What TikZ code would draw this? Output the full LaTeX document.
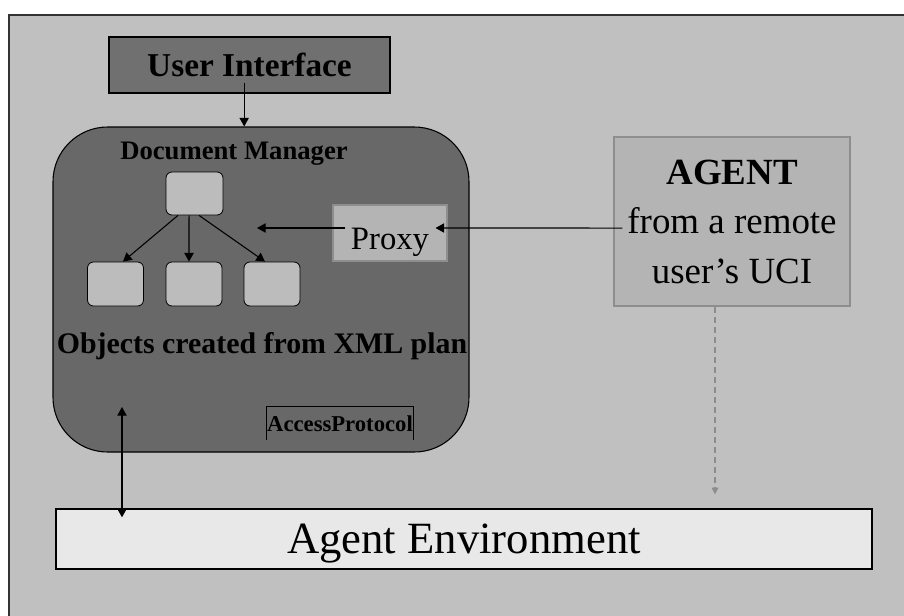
\documentclass[tikz,border=0pt]{standalone}
\usepackage{fontspec}
\setmainfont{Liberation Serif}
\usetikzlibrary{arrows.meta}
\definecolor{bggray}{RGB}{192,192,192}
\definecolor{uigray}{RGB}{112,112,112}
\definecolor{dmgray}{RGB}{104,104,104}
\definecolor{objgray}{RGB}{188,188,188}
\definecolor{proxygray}{RGB}{180,180,180}
\definecolor{proxyline}{RGB}{142,142,142}
\definecolor{envgray}{RGB}{232,232,232}
\tikzset{
  objbox/.style={draw=black, line width=0.6pt, fill=objgray, rounded corners=4.5pt,
    minimum width=42pt, minimum height=33pt, inner sep=0pt},
  arr/.style={line width=0.8pt, -{Triangle[length=6.5pt,width=7pt]}},
}
\begin{document}
\begin{tikzpicture}[x=0.75pt, y=-0.75pt]
  \useasboundingbox (0,0) rectangle (904,615);
  % frame
  \fill[bggray] (9,15) rectangle (912,622);
  \draw[line width=1.1pt, black!80] (9,622) -- (9,15) -- (912,15);
  % user interface and document manager
  \node[draw, line width=1pt, fill=uigray, inner sep=0pt, minimum width=210.75pt, minimum height=42pt,
    font=\fontsize{25}{30}\selectfont\bfseries] (ui) at (249.5,65) {User Interface};
  \node[draw, line width=0.8pt, fill=dmgray, rounded corners=41pt, inner sep=0pt,
    minimum width=312pt, minimum height=243.75pt] (dm) at (261,289.5) {};
  \node[anchor=base, font=\fontsize{20}{24}\selectfont\bfseries] (dmtitle) at (234,159) {Document Manager};
  \draw[arr] ([xshift=-4pt,yshift=8pt]ui.south) -- ([xshift=-4pt]ui.south |- dm.north);
  % object tree
  \node[objbox, minimum width=42.75pt, minimum height=32.25pt] (top) at (194.5,193.5) {};
  \node[objbox] (b1) at (115.5,284) {};
  \node[objbox] (b2) at (194,284) {};
  \node[objbox] (b3) at (272,284) {};
  \draw[arr] ([xshift=-12.4pt]top.south) -- ([xshift=5.6pt]b1.north);
  \draw[arr] ([xshift=-4.1pt]top.south) -- ([xshift=-3.75pt]b2.north);
  \draw[arr] ([xshift=3.4pt]top.south) -- ([xshift=-5.25pt]b3.north);
  \node[anchor=base, font=\fontsize{22.4}{27}\selectfont\bfseries] (objs) at (262,353) {Objects created from XML plan};
  % access protocol
  \node[inner sep=0pt, minimum width=109.5pt, minimum height=24.75pt,
    font=\fontsize{17}{20}\selectfont\bfseries] (access) at (340,423.5) {AccessProtocol};
  \draw[line width=0.7pt] (access.south west) |- (access.north east) -- (access.south east);
  % proxy and remote agent
  \node[draw=proxyline, line width=0.8pt, fill=proxygray, inner sep=0pt, minimum width=85.5pt, minimum height=42pt,
    text height=24pt, text depth=0pt, font=\fontsize{24.5}{29}\selectfont] (proxy) at (390,233) {Proxy};
  \coordinate (dmin) at (257,228);
  \draw[arr] ([xshift=9.75pt,yshift=3.75pt]proxy.west) -- (dmin);
  \node[draw=proxyline, line width=0.8pt, fill=proxygray, inner sep=0pt, minimum width=177pt, minimum height=126.75pt,
    align=center, font=\fontsize{27.7}{37.1}\selectfont] (agent) at (732,221.5) {\textbf{AGENT}\\from a remote\\user’s UCI};
  \draw[arr] ([xshift=6.75pt,yshift=-4.9pt]agent.west) -- ([xshift=-9pt,yshift=3.75pt]proxy.east);
  % environment
  \node[draw, line width=1pt, fill=envgray, inner sep=0pt, minimum width=612pt, minimum height=45pt,
    text depth=0pt, font=\fontsize{33.5}{40}\selectfont] (env) at (464,539) {Agent Environment};
  \draw[line width=0.8pt, dashed, dash pattern=on 4.5pt off 3pt, black!45,
    -{Triangle[length=5pt,width=5pt]}] ([xshift=-12.75pt]agent.south) -- ([xshift=-12.75pt,yshift=10.5pt]agent.south |- env.north);
  \coordinate (dmlow) at (122,407);
  \draw[arr, {Triangle[length=6.5pt,width=7pt]}-{Triangle[length=6.5pt,width=7pt]}] (dmlow) -- ([yshift=-6.75pt]dmlow |- env.north);
\end{tikzpicture}
\end{document}
